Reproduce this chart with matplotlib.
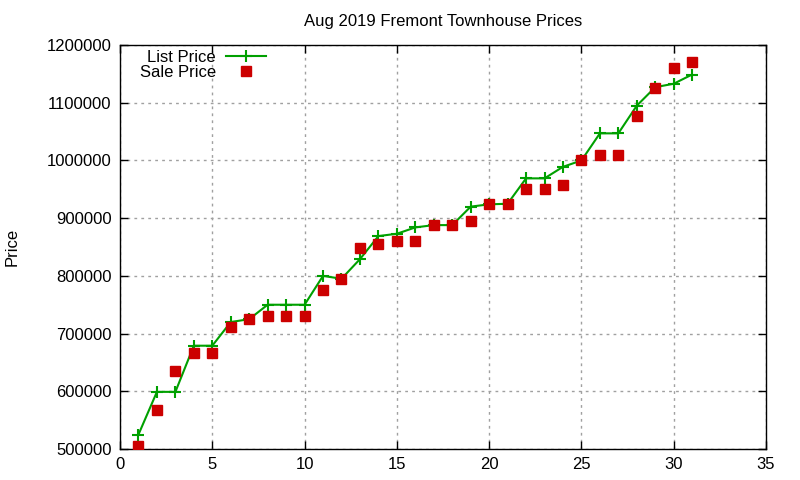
import matplotlib
matplotlib.use("Agg")
from matplotlib import pyplot as plt

# datos
dias = list(range(1, 32))
precio_lista = [525000, 599000, 599000, 679000, 679000, 720000, 725000, 750000, 750000, 750000,
                800000, 795000, 829000, 869000, 873000, 884000, 888000, 888000, 920000, 924000,
                925000, 969000, 969000, 989000, 1000000, 1047000, 1047000, 1095000, 1127000, 1133000,
                1149000]
precio_venta = [505000, 567000, 636000, 667000, 667000, 711000, 725000, 730000, 730000, 730000,
                776000, 795000, 849000, 855000, 860000, 860000, 888000, 888000, 895000, 925000,
                925000, 950000, 950000, 958000, 1000000, 1009000, 1009000, 1077000, 1125000, 1161000,
                1171000]
ticks_x = [0, 5, 10, 15, 20, 25, 30, 35]
ticks_y = [500000, 600000, 700000, 800000, 900000, 1000000, 1100000, 1200000]

plt.rcParams["font.family"] = ["Liberation Sans", "DejaVu Sans"]
plt.rcParams["font.size"] = 12

fig = plt.figure(figsize=(8, 4.8), dpi=100)
ax = fig.add_axes([0.15, 0.0646, 0.8075, 0.8415])

ax.plot(dias, precio_lista, color="#00a000", lw=1.5, marker="+", ms=8, mew=1.5,
        label="List Price", zorder=3)
ax.plot(dias, precio_venta, ls="none", color="#cc0000", marker="s", ms=7,
        label="Sale Price", zorder=4)

ax.set_xlim(0, 35)
ax.set_ylim(500000, 1200000)
ax.set_xticks(ticks_x)
ax.set_yticks(ticks_y)
ax.ticklabel_format(style="plain", useOffset=False)
ax.grid(True, color="#a0a0a0", ls=(0, (2, 3)), lw=1)
ax.set_axisbelow(True)
ax.tick_params(direction="in", top=True, right=True, length=6, width=1, labelsize=12, pad=6)
for lado in ax.spines.values():
    lado.set_linewidth(1)

ax.set_title("Aug 2019 Fremont Townhouse Prices", fontsize=12, pad=14)
ax.set_ylabel("Price", fontsize=12)
ax.yaxis.set_label_coords(-0.155, 0.5)

ax.legend(loc="upper left", markerfirst=False, frameon=False, fontsize=12,
          handlelength=2.4, handletextpad=0.6, borderaxespad=0.0, labelspacing=0.0,
          bbox_to_anchor=(0.02, 1.005))

fig.savefig("out.png", dpi=100)
plt.close(fig)
